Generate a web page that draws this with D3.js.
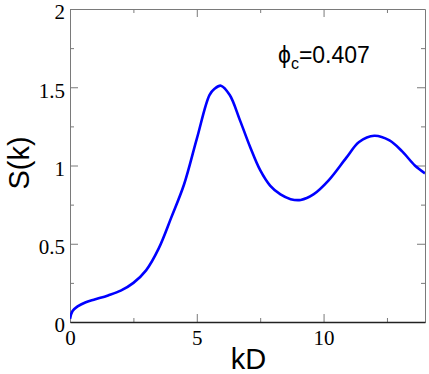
<!DOCTYPE html>
<html>
<head>
<meta charset="utf-8">
<script src="https://cdn.jsdelivr.net/npm/d3@7"></script>
<style>
    body { margin: 0; background: #fff; }
    .tick text { font-family: "Liberation Serif", "Times New Roman", serif; font-size: 21px; fill: #000; }
</style>
</head>
<body>
<div id="chart"></div>
<script>
// structure factor S(k)
const kValues = [0, 0.1, 0.3, 0.6, 1.0, 1.5, 2.0, 2.5, 3.0, 3.5, 4.0, 4.5, 5.0, 5.5, 5.7, 5.95, 6.3, 6.7, 7.1, 7.5, 7.9, 8.3, 8.7, 9.1, 9.6, 10.2, 10.9, 11.4, 12.0, 12.6, 13.1, 13.6, 14.0]
const sValues = [0.02, 0.07, 0.10, 0.125, 0.145, 0.17, 0.20, 0.25, 0.33, 0.47, 0.67, 0.88, 1.17, 1.45, 1.49, 1.51, 1.45, 1.29, 1.12, 0.97, 0.87, 0.815, 0.785, 0.78, 0.815, 0.905, 1.05, 1.15, 1.19, 1.16, 1.09, 1.0, 0.95]

const xTicks = [0, 5, 10]
const xMinor = [2.5, 7.5, 12.5]
const yTicks = [0, 0.5, 1, 1.5, 2]
const yMinor = [0.25, 0.75, 1.25, 1.75]
const label = "=0.407"

const data = kValues.map((k, i) => ({ k: k, s: sValues[i] }))

var width = 429,
    height = 374;
const margin = ({ top: 9, right: 4, bottom: 52, left: 70 })
const w = width - margin.left - margin.right
const h = height - margin.top - margin.bottom

var svg = d3.select("#chart").append("svg")
    .attr("width", width)
    .attr("height", height)

var x = d3.scaleLinear().domain([0, 14]).range([0, w])
var y = d3.scaleLinear().domain([0, 2]).range([h, 0])

var g = svg.append("g")
    .attr("transform", `translate(${margin.left},${margin.top})`)

// clip so the curve stops at the frame
g.append("clipPath").attr("id", "clip")
    .append("rect").attr("width", w).attr("height", h)

const gray = "#7a7a7a"

// minor ticks first, all four sides, pointing inwards
g.append("g").attr("transform", `translate(0,${h})`)
    .call(d3.axisBottom(x).tickValues(xMinor).tickSize(-4).tickFormat(""))
    .call(a => a.select(".domain").remove())
g.append("g")
    .call(d3.axisTop(x).tickValues(xMinor).tickSize(-4).tickFormat(""))
    .call(a => a.select(".domain").remove())
g.append("g")
    .call(d3.axisLeft(y).tickValues(yMinor).tickSize(-4).tickFormat(""))
    .call(a => a.select(".domain").remove())
g.append("g").attr("transform", `translate(${w},0)`)
    .call(d3.axisRight(y).tickValues(yMinor).tickSize(-4).tickFormat(""))
    .call(a => a.select(".domain").remove())

// major ticks + frame
g.append("g").attr("transform", `translate(0,${h})`)
    .call(d3.axisTop(x).tickValues(xTicks).tickSize(8).tickSizeOuter(0).tickFormat(""))
g.append("g")
    .call(d3.axisTop(x).tickValues(xTicks).tickSize(-8).tickSizeOuter(0).tickFormat(""))
g.append("g").attr("transform", `translate(${w},0)`)
    .call(d3.axisLeft(y).tickValues(yTicks).tickSize(8).tickSizeOuter(0).tickFormat(""))
g.append("g")
    .call(d3.axisRight(y).tickValues(yTicks).tickSize(8).tickSizeOuter(0).tickFormat(""))

g.selectAll(".tick line").attr("stroke", gray)
g.selectAll(".domain").attr("stroke", gray)

// tick labels
g.append("g").attr("transform", `translate(0,${h})`)
    .call(d3.axisBottom(x).tickValues(xTicks).tickSize(0).tickPadding(8).tickFormat(d3.format("d")))
    .call(a => a.select(".domain").attr("stroke", "#222").attr("stroke-width", 1.3))
g.append("g")
    .call(d3.axisLeft(y).tickValues(yTicks).tickSize(0).tickPadding(5).tickFormat(d => d))
    .call(a => a.select(".domain").remove())
    .call(a => a.selectAll(".tick text").attr("dy", "0.47em"))

// the curve
g.append("path")
    .datum(data)
    .attr("clip-path", "url(#clip)")
    .attr("fill", "none")
    .attr("stroke", "#0000ff")
    .attr("stroke-width", 2.6)
    .attr("d", d3.line()
        .x(d => x(d.k))
        .y(d => y(d.s))
        .curve(d3.curveCatmullRom.alpha(0.5)))

// axis titles
svg.append("text")
    .attr("x", margin.left + w / 2 + 1)
    .attr("y", 369)
    .attr("text-anchor", "middle")
    .style("font-family", "Liberation Sans, Arial, sans-serif")
    .style("font-size", "29px")
    .text("kD")

svg.append("text")
    .attr("transform", "translate(29,163) rotate(-90)")
    .attr("text-anchor", "middle")
    .style("font-family", "Liberation Sans, Arial, sans-serif")
    .style("font-size", "29px")
    .text("S(k)")

// annotation
var note = svg.append("text")
    .attr("x", 278)
    .attr("y", 63)
    .style("font-family", "Liberation Sans, Arial, sans-serif")
    .style("font-size", "23px")
note.append("tspan").text("ϕ")
note.append("tspan").attr("dy", 6).style("font-size", "16px").text("c")
note.append("tspan").attr("dy", -6).text(label)
</script>
</body>
</html>
